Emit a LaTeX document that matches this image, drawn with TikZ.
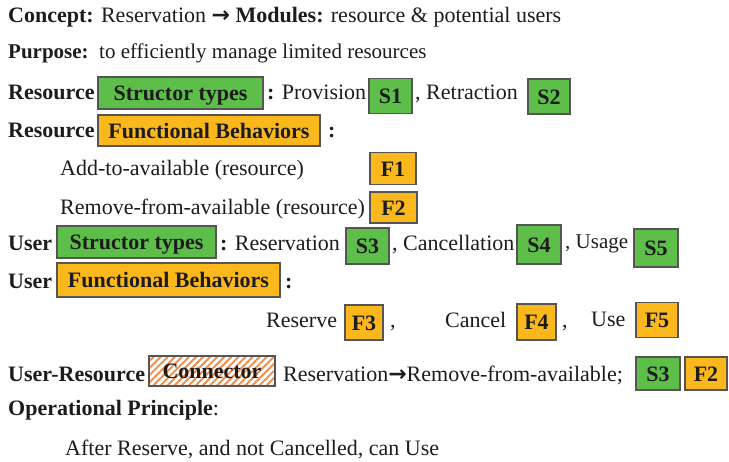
\documentclass[tikz,border=0pt]{standalone}
\usepackage{fontspec}
\setmainfont{Liberation Serif}
\newfontfamily\arrowfont{DejaVu Sans}
\usetikzlibrary{patterns.meta}
\definecolor{boxgreen}{RGB}{94,190,74}
\definecolor{boxorange}{RGB}{250,184,28}
\definecolor{hatchorange}{RGB}{240,140,70}
\definecolor{ink}{RGB}{28,28,28}
\definecolor{edge}{RGB}{85,85,85}
\newcommand{\rarr}{{\arrowfont\bfseries →}}
\newcommand{\bodysize}{\fontsize{22}{26}\selectfont}
\begin{document}
\begin{tikzpicture}[x=1pt,y=-1pt,
  every node/.style={font=\bodysize, text=ink},
  txt/.style={anchor=base west, inner sep=0pt},
  btxt/.style={txt, font=\bodysize\bfseries},
  tag/.style={draw=edge, line width=1.1pt, inner sep=0pt,
    text height=15pt, text depth=0pt, font=\bodysize\bfseries},
  gtag/.style={tag, fill=boxgreen},
  otag/.style={tag, fill=boxorange},
  htag/.style={tag, preaction={fill=white},
    pattern={Lines[angle=45,distance=5pt,line width=1.9pt]},
    pattern color=hatchorange},
]
\useasboundingbox (0,0) rectangle (729,461);

% heading lines
\node[txt] (concept) at (8,22) {\textbf{Concept:} Reservation \rarr{} \textbf{Modules:} resource \& potential users};
\node[txt, font=\fontsize{21}{25}\selectfont] (purpose) at (8,58) {\textbf{Purpose:}\, to efficiently manage limited resources};

% resource structor types
\node[btxt] (res1) at (8,99) {Resource};
\node[gtag, minimum width=165pt, minimum height=32pt] (rst) at (180.5,93) {Structor types};
\node[txt] (prov) at (267,99) {\textbf{:} Provision};
\node[gtag, minimum width=43pt, minimum height=35pt] (s1) at (390.5,96) {S1};
\node[txt] (retr) at (415,99) {, Retraction};
\node[gtag, minimum width=42pt, minimum height=35pt] (s2) at (549,96.5) {S2};

% resource functional behaviors
\node[btxt] (res2) at (8,137) {Resource};
\node[otag, minimum width=222pt, minimum height=31pt] (rfb) at (209,130.5) {Functional Behaviors};
\node[btxt] (col1) at (328,137) {:};
\node[txt] (add) at (60,175) {Add-to-available (resource)};
\node[otag, minimum width=46pt, minimum height=32pt] (f1) at (393,168.5) {F1};
\node[txt] (rem) at (60,214) {Remove-from-available (resource)};
\node[otag, minimum width=47pt, minimum height=31pt] (f2) at (393.5,207.5) {F2};

% user structor types
\node[btxt] (usr1) at (8,250) {User};
\node[gtag, minimum width=159pt, minimum height=32pt] (ust) at (136.5,242) {Structor types};
\node[txt] (resv) at (220,250) {\textbf{:} Reservation};
\node[gtag, minimum width=43pt, minimum height=36pt] (s3) at (367.5,246) {S3};
\node[txt] (canc) at (392,250) {, Cancellation};
\node[gtag, minimum width=44pt, minimum height=39pt] (s4) at (539,244.5) {S4};
\node[txt, font=\fontsize{21}{25}\selectfont] (usage) at (565,248) {, Usage};
\node[gtag, minimum width=44pt, minimum height=38pt] (s5) at (656,248) {S5};

% user functional behaviors
\node[btxt] (usr2) at (8,288) {User};
\node[otag, minimum width=223pt, minimum height=34pt] (ufb) at (168.5,280) {Functional Behaviors};
\node[btxt] (col2) at (285,288) {:};
\node[txt] (reserve) at (266,327) {Reserve};
\node[otag, minimum width=38pt, minimum height=35pt] (f3) at (364,322.5) {F3};
\node[txt] (cm1) at (390,327) {,};
\node[txt] (cancel) at (445,327) {Cancel};
\node[otag, minimum width=39pt, minimum height=36pt] (f4) at (536.5,322) {F4};
\node[txt] (cm2) at (562,327) {,};
\node[txt] (use) at (591,326) {Use};
\node[otag, minimum width=42pt, minimum height=35pt] (f5) at (657,320) {F5};

% connector line
\node[btxt] (ures) at (8,381) {User-Resource};
\node[htag, minimum width=126pt, minimum height=30pt] (conn) at (212,371) {Connector};
\node[txt] (map) at (283,381) {Reservation\rarr{}Remove-from-available;};
\node[gtag, minimum width=44pt, minimum height=33pt] (s3b) at (658,373.5) {S3};
\node[otag, minimum width=42pt, minimum height=33pt] (f2b) at (706,373.5) {F2};

% operational principle
\node[txt] (op) at (8,415) {\textbf{Operational Principle}:};
\node[txt] (after) at (65,455) {After Reserve, and not Cancelled, can Use};
\end{tikzpicture}
\end{document}
